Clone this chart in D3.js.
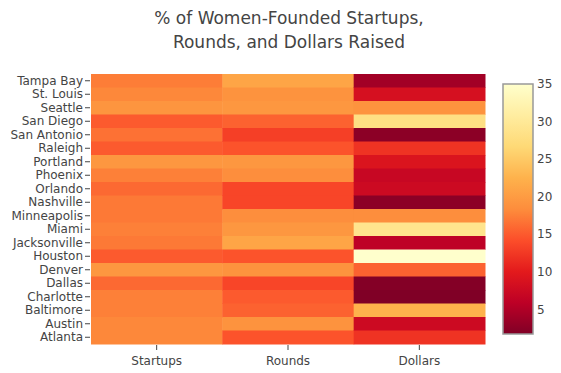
<!DOCTYPE html>
<html><head><meta charset="utf-8">
<script src="https://cdn.jsdelivr.net/npm/d3@7"></script>
<style>html,body{margin:0;padding:0;background:#fff;}svg{display:block;}</style>
</head><body>
<svg id="chart" width="561" height="373"></svg>
<script>
const cities = ["Tampa Bay","St. Louis","Seattle","San Diego","San Antonio","Raleigh","Portland","Phoenix","Orlando","Nashville","Minneapolis","Miami","Jacksonville","Houston","Denver","Dallas","Charlotte","Baltimore","Austin","Atlanta"];
const metrics = ["Startups","Rounds","Dollars"];
const startups = [17.3,18.0,19.2,15.0,16.5,15.0,19.5,17.5,16.0,17.0,17.0,17.5,17.0,15.0,19.5,16.0,17.5,17.5,18.0,18.0];
const rounds   = [21.0,19.0,19.5,15.5,13.0,14.5,19.5,18.5,13.5,13.5,18.5,19.5,21.0,14.5,19.0,13.5,15.0,15.5,19.0,14.5];
const dollars  = [4.0,8.5,19.0,28.0,2.5,12.0,9.0,7.0,7.5,2.5,18.5,29.0,6.0,35.0,15.5,2.0,1.7,22.5,7.5,12.0];
const colorTicks = [5,10,15,20,25,30,35];
const zmin = 1.7, zmax = 35;

(function(){
const series = {Startups: startups, Rounds: rounds, Dollars: dollars};
const cells = [];
metrics.forEach(m => cities.forEach((c,i) => cells.push({m, c, v: series[m][i]})));

const plotColors = ["rgb(128,0,38)","rgb(189,0,38)","rgb(227,26,28)","rgb(252,78,42)","rgb(253,141,60)","rgb(254,178,76)","rgb(254,217,118)","rgb(255,237,160)","rgb(255,255,204)"];
const stops = plotColors.map((_,i)=> zmin + (zmax-zmin)*i/(plotColors.length-1));
const color = d3.scaleLinear().domain(stops).range(plotColors).interpolate(d3.interpolateRgb).clamp(true);

const svg = d3.select("#chart");
const font = "'DejaVu Sans', Verdana, sans-serif";
const pLeft = 91, pRight = 485, pTop = 74, pBottom = 344;

const x = d3.scaleBand().domain(metrics).range([pLeft,pRight]);
const y = d3.scaleBand().domain(cities).range([pTop,pBottom]);

svg.append("g").selectAll("rect").data(cells).join("rect")
  .attr("x", d=>x(d.m)).attr("y", d=>y(d.c))
  .attr("width", x.bandwidth()+0.5).attr("height", y.bandwidth()+0.5)
  .attr("fill", d=>color(d.v));

const xAxis = svg.append("g").attr("transform",`translate(0,${pBottom+1})`)
  .call(d3.axisBottom(x).tickSize(5).tickPadding(6));
const yAxis = svg.append("g").attr("transform",`translate(${pLeft-1},0)`)
  .call(d3.axisLeft(y).tickSize(5).tickPadding(2));
[xAxis,yAxis].forEach(a=>{
  a.select(".domain").remove();
  a.selectAll("line").attr("stroke","#444");
  a.selectAll("text").attr("fill","#444").style("font-family",font).style("font-size","12px");
});

const title = svg.append("text").attr("x",289).attr("y",24).attr("text-anchor","middle")
  .style("font-family",font).style("font-size","17px").attr("fill","#444");
title.append("tspan").attr("x",289).attr("dy",0).text("% of Women-Founded Startups,");
title.append("tspan").attr("x",289).attr("dy","1.4em").text("Rounds, and Dollars Raised");

const cbX = 503, cbW = 30, cbTop = 84, cbBottom = 334;
const defs = svg.append("defs");
const grad = defs.append("linearGradient").attr("id","cbgrad").attr("x1",0).attr("y1",1).attr("x2",0).attr("y2",0);
plotColors.forEach((c,i)=>grad.append("stop").attr("offset", i/(plotColors.length-1)).attr("stop-color",c));
svg.append("rect").attr("x",cbX).attr("y",cbTop).attr("width",cbW).attr("height",cbBottom-cbTop)
  .attr("fill","url(#cbgrad)").attr("stroke","#999").attr("stroke-width",1.5);
const cbScale = d3.scaleLinear().domain([zmin,zmax]).range([cbBottom,cbTop]);
const cbAxis = svg.append("g").attr("transform",`translate(${cbX+cbW},0)`)
  .call(d3.axisRight(cbScale).tickValues(colorTicks).tickSize(0).tickPadding(4));
cbAxis.select(".domain").remove();
cbAxis.selectAll("text").attr("fill","#444").style("font-family",font).style("font-size","12px");
})();
</script>
</body></html>
